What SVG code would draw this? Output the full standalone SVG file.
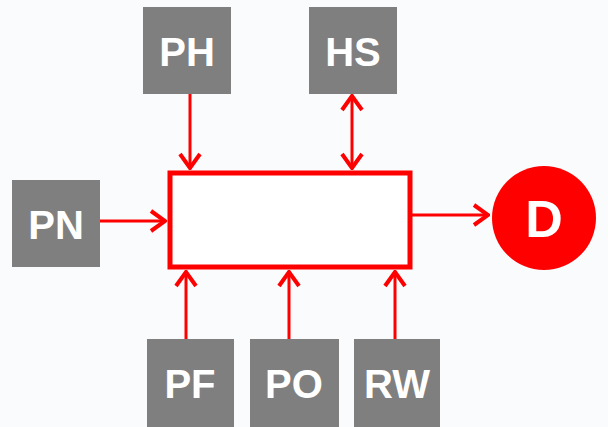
<svg xmlns="http://www.w3.org/2000/svg" width="608" height="427" viewBox="0 0 608 427">
<style>
.box{fill:#7f7f7f}
.lbl{fill:#fff;font-family:"Liberation Sans",Arial,sans-serif;font-weight:bold;font-size:40px;text-anchor:middle}
.c{stroke:#f00;stroke-width:3;fill:none}
</style>
<defs>
<marker id="ah" viewBox="0 0 18 24" refX="16" refY="12" markerWidth="18" markerHeight="24" markerUnits="userSpaceOnUse" orient="auto-start-reverse">
<path d="M2,2 L16,12 L2,22" fill="none" stroke="#f00" stroke-width="4"/>
</marker>
</defs>
<rect width="608" height="427" fill="#f9fbfd"/>
<g id="PH"><rect class="box" x="143" y="7" width="88" height="87"/><text class="lbl" x="187" y="66">PH</text></g>
<g id="HS"><rect class="box" x="309" y="7" width="88" height="87"/><text class="lbl" x="353" y="66">HS</text></g>
<g id="PN"><rect class="box" x="12" y="180" width="88" height="87"/><text class="lbl" x="56" y="239">PN</text></g>
<g id="PF"><rect class="box" x="147" y="339" width="87" height="88"/><text class="lbl" x="190" y="398">PF</text></g>
<g id="PO"><rect class="box" x="250" y="339" width="89" height="88"/><text class="lbl" x="294" y="398">PO</text></g>
<g id="RW"><rect class="box" x="354" y="339" width="86" height="88"/><text class="lbl" x="397" y="398">RW</text></g>
<g id="main"><rect x="170" y="173" width="240" height="94" fill="#fff" stroke="#f00" stroke-width="5"/></g>
<g id="D"><circle cx="544" cy="218" r="52" fill="#f00"/><text class="lbl" x="544" y="237" style="font-size:52px">D</text></g>
<g id="connectors">
<line class="c" x1="190" y1="94" x2="190" y2="168" marker-end="url(#ah)"/>
<line class="c" x1="352" y1="96" x2="352" y2="168" marker-start="url(#ah)" marker-end="url(#ah)"/>
<line class="c" x1="100" y1="221" x2="165" y2="221" marker-end="url(#ah)"/>
<line class="c" x1="412" y1="215" x2="488" y2="215" marker-end="url(#ah)"/>
<line class="c" x1="186" y1="339" x2="186" y2="272" marker-end="url(#ah)"/>
<line class="c" x1="289" y1="339" x2="289" y2="272" marker-end="url(#ah)"/>
<line class="c" x1="395" y1="339" x2="395" y2="272" marker-end="url(#ah)"/>
</g>
</svg>
